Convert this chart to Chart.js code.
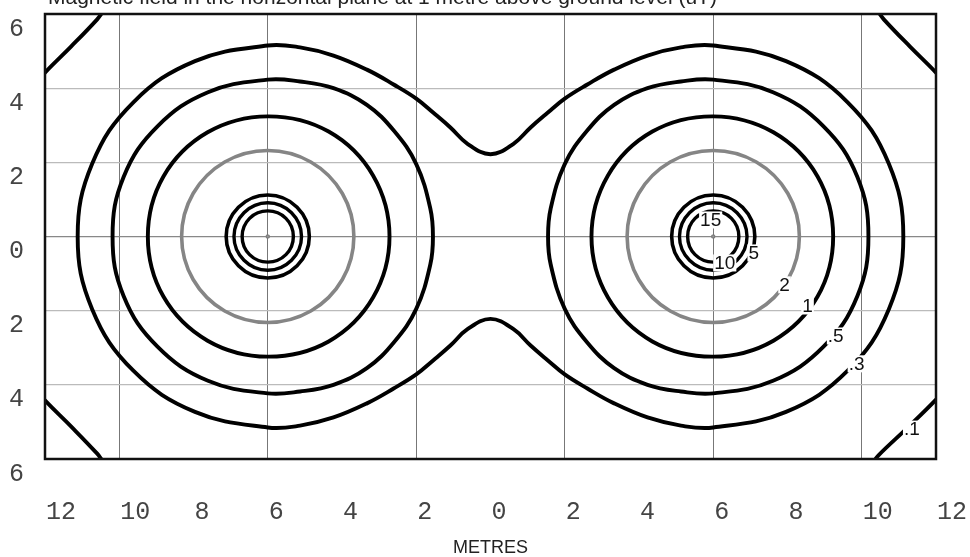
<!DOCTYPE html>
<html>
<head>
<meta charset="utf-8">
<title>Magnetic field contours</title>
<script src="https://cdn.jsdelivr.net/npm/chart.js@4.4.1/dist/chart.umd.min.js"></script>
<style>
  html, body { margin: 0; padding: 0; background: #fff; }
  #wrap { position: relative; width: 970px; height: 557px; }
</style>
</head>
<body>
<div id="wrap"><canvas id="fieldChart"></canvas></div>
<script>
// axes (metres)
const xTickValues = [-12, -10, -8, -6, -4, -2, 0, 2, 4, 6, 8, 10, 12];
const yTickValues = [6, 4, 2, 0, -2, -4, -6];
const xGridLines = [-10, -6, -2, 2, 6, 10];
const yGridLines = [4, 2, 0, -2, -4];
const conductors = [[-6, 0], [6, 0]];
const chartTitle = "Magnetic field in the horizontal plane at 1 metre above ground level (uT)";

// contour outlines, [x, y] in metres
const ring15Left = [[-6, 0.69], [-5.51, 0.49], [-5.31, 0], [-5.51, -0.49], [-6, -0.69], [-6.49, -0.49], [-6.69, 0], [-6.49, 0.49]];
const ring15Right = [[6, 0.69], [6.49, 0.49], [6.69, 0], [6.49, -0.49], [6, -0.69], [5.51, -0.49], [5.31, 0], [5.51, 0.49]];
const ring10Left = [[-6, 0.91], [-5.36, 0.64], [-5.09, 0], [-5.36, -0.64], [-6, -0.91], [-6.64, -0.64], [-6.91, 0], [-6.64, 0.64]];
const ring10Right = [[6, 0.91], [6.64, 0.64], [6.91, 0], [6.64, -0.64], [6, -0.91], [5.36, -0.64], [5.09, 0], [5.36, 0.64]];
const ring5Left = [[-6, 1.12], [-5.21, 0.79], [-4.88, 0], [-5.21, -0.79], [-6, -1.12], [-6.79, -0.79], [-7.12, 0], [-6.79, 0.79]];
const ring5Right = [[6, 1.12], [6.79, 0.79], [7.12, 0], [6.79, -0.79], [6, -1.12], [5.21, -0.79], [4.88, 0], [5.21, 0.79]];
const ring2Left = [[-6, 2.32], [-4.84, 2.01], [-3.99, 1.16], [-3.68, 0], [-3.99, -1.16], [-4.84, -2.01], [-6, -2.32], [-7.16, -2.01], [-8.01, -1.16], [-8.32, 0], [-8.01, 1.16], [-7.16, 2.01]];
const ring2Right = [[6, 2.32], [7.16, 2.01], [8.01, 1.16], [8.32, 0], [8.01, -1.16], [7.16, -2.01], [6, -2.32], [4.84, -2.01], [3.99, -1.16], [3.68, 0], [3.99, 1.16], [4.84, 2.01]];
const ring1Left = [[-6, 3.24], [-4.36, 2.83], [-3.16, 1.64], [-2.72, 0], [-3.16, -1.64], [-4.36, -2.83], [-6, -3.24], [-7.62, -2.81], [-8.81, -1.62], [-9.23, 0], [-8.81, 1.62], [-7.62, 2.81]];
const ring1Right = [[6, 3.24], [7.62, 2.81], [8.81, 1.62], [9.23, 0], [8.81, -1.62], [7.62, -2.81], [6, -3.24], [4.36, -2.83], [3.16, -1.64], [2.72, 0], [3.16, 1.64], [4.36, 2.83]];
const ring05Left = [[-6, 4.23], [-5.13, 4.18], [-4.23, 4.0], [-3.33, 3.55], [-2.6, 2.85], [-2.0, 1.95], [-1.62, 0.75], [-1.55, 0], [-1.62, -0.75], [-2.0, -1.95], [-2.6, -2.85], [-3.33, -3.55], [-4.23, -4.0], [-5.13, -4.18], [-6, -4.23], [-7.61, -3.89], [-8.97, -2.97], [-9.88, -1.61], [-10.18, 0], [-9.88, 1.61], [-8.97, 2.97], [-7.61, 3.89]];
const ring05Right = [[6, 4.23], [7.61, 3.89], [8.97, 2.97], [9.88, 1.61], [10.18, 0], [9.88, -1.61], [8.97, -2.97], [7.61, -3.89], [6, -4.23], [5.13, -4.18], [4.23, -4.0], [3.33, -3.55], [2.6, -2.85], [2.0, -1.95], [1.62, -0.75], [1.55, 0], [1.62, 0.75], [2.0, 1.95], [2.6, 2.85], [3.33, 3.55], [4.23, 4.0], [5.13, 4.18]];
const loop03 = [[0, 2.22], [-0.62, 2.5], [-1.08, 2.94], [-1.53, 3.33], [-2.0, 3.72], [-2.61, 4.1], [-3.33, 4.5], [-4.23, 4.88], [-5.13, 5.1], [-6, 5.15],
  [-7.96, 4.73], [-9.62, 3.62], [-10.73, 1.96], [-11.12, 0], [-10.73, -1.96], [-9.62, -3.62], [-7.96, -4.73], [-6, -5.15],
  [-5.13, -5.1], [-4.23, -4.88], [-3.33, -4.5], [-2.61, -4.1], [-2.0, -3.72], [-1.53, -3.33], [-1.08, -2.94], [-0.62, -2.5], [0, -2.22],
  [0.62, -2.5], [1.08, -2.94], [1.53, -3.33], [2.0, -3.72], [2.61, -4.1], [3.33, -4.5], [4.23, -4.88], [5.13, -5.1], [6, -5.15],
  [7.96, -4.73], [9.62, -3.62], [10.73, -1.96], [11.12, 0], [10.73, 1.96], [9.62, 3.62], [7.96, 4.73], [6, 5.15],
  [5.13, 5.1], [4.23, 4.88], [3.33, 4.5], [2.61, 4.1], [2.0, 3.72], [1.53, 3.33], [1.08, 2.94], [0.62, 2.5]];
const arc01UpperLeft = [[-12.4, 3.95], [-12.0, 4.42], [-11.3, 5.12], [-10.6, 5.85], [-10.45, 6.05]];
const arc01LowerLeft = [[-12.4, -3.95], [-12.0, -4.42], [-11.3, -5.12], [-10.6, -5.85], [-10.45, -6.05]];
const arc01UpperRight = [[12.4, 3.95], [12.0, 4.42], [11.3, 5.12], [10.6, 5.85], [10.45, 6.05]];
const arc01LowerRight = [[12.4, -3.95], [12.0, -4.4], [11.25, -5.14], [10.45, -5.9], [10.3, -6.1]];

// contour value labels (placed on the right-hand conductor)
const contourLabels = ["15", "10", "5", "2", "1", ".5", ".3", ".1"];
const labelX = [5.93, 6.31, 7.09, 7.92, 8.54, 9.30, 9.86, 11.35];
const labelY = [0.46, -0.70, -0.43, -1.29, -1.86, -2.67, -3.42, -5.18];

function contour(pts, color, width, closed, tension) {
  return {
    data: pts.map(p => ({ x: p[0], y: p[1] })),
    closed: closed,
    showLine: true,
    borderColor: color,
    borderWidth: width,
    pointRadius: 0,
    pointHoverRadius: 0,
    tension: tension,
    fill: false,
    clip: 0
  };
}

const black = "#000000";
const grey = "#858585";

const datasets = [
  contour(ring15Left, black, 3.4, true, 0.37),
  contour(ring15Right, black, 3.4, true, 0.37),
  contour(ring10Left, black, 3.4, true, 0.37),
  contour(ring10Right, black, 3.4, true, 0.37),
  contour(ring5Left, black, 3.6, true, 0.37),
  contour(ring5Right, black, 3.6, true, 0.37),
  contour(ring2Left, grey, 3.6, true, 0.35),
  contour(ring2Right, grey, 3.6, true, 0.35),
  contour(ring1Left, black, 3.9, true, 0.35),
  contour(ring1Right, black, 3.9, true, 0.35),
  contour(ring05Left, black, 3.9, true, 0.4),
  contour(ring05Right, black, 3.9, true, 0.4),
  contour(loop03, black, 3.9, true, 0.4),
  contour(arc01UpperLeft, black, 3.9, false, 0.4),
  contour(arc01LowerLeft, black, 3.9, false, 0.4),
  contour(arc01UpperRight, black, 3.9, false, 0.4),
  contour(arc01LowerRight, black, 3.9, false, 0.4),
  {
    data: conductors.map(p => ({ x: p[0], y: p[1] })),
    pointStyle: "rect",
    pointRadius: 2,
    backgroundColor: "#999",
    borderColor: "#777",
    borderWidth: 1
  }
];

// closed contours: let the line element wrap round like a radar line
const closeLoops = {
  id: "closeLoops",
  afterDatasetUpdate(chart, args) {
    const ds = chart.data.datasets[args.index];
    if (ds.closed) {
      const line = args.meta.dataset;
      line._loop = true;
      line._fullLoop = true;
      delete line._segments;
      delete line._path;
      line._pointsUpdated = false;
    }
  }
};

// frame, contour labels and the (clipped) title line
const decorations = {
  id: "decorations",
  afterDatasetsDraw(chart) {
    const ctx = chart.ctx;
    const xs = chart.scales.x, ys = chart.scales.y;
    ctx.save();
    ctx.font = "19px 'Liberation Sans', Arial, sans-serif";
    ctx.textAlign = "center";
    ctx.textBaseline = "middle";
    contourLabels.forEach((t, i) => {
      const px = xs.getPixelForValue(labelX[i]);
      const py = ys.getPixelForValue(labelY[i]);
      const w = ctx.measureText(t).width;
      ctx.fillStyle = "#fff";
      ctx.fillRect(px - w / 2 - 1, py - 8, w + 2, 17);
      ctx.fillStyle = "#111";
      ctx.fillText(t, px, py + 1);
    });
    const a = chart.chartArea;
    ctx.strokeStyle = "#111";
    ctx.lineWidth = 2.5;
    ctx.strokeRect(a.left, a.top, a.right - a.left, a.bottom - a.top);
    ctx.restore();
  },
  afterDraw(chart) {
    const ctx = chart.ctx;
    ctx.save();
    ctx.font = "21px 'Liberation Sans', Arial, sans-serif";
    ctx.fillStyle = "#222";
    ctx.textAlign = "left";
    ctx.textBaseline = "alphabetic";
    ctx.fillText(chartTitle, 48, 4);
    ctx.restore();
  }
};

function noPadding(s) {
  s.paddingLeft = 0;
  s.paddingRight = 0;
  s.paddingTop = 0;
  s.paddingBottom = 0;
}

new Chart(document.getElementById("fieldChart"), {
  type: "scatter",
  data: { datasets: datasets },
  plugins: [closeLoops, decorations],
  options: {
    responsive: true,
    maintainAspectRatio: false,
    animation: false,
    layout: { padding: { top: 14, right: 34, left: 0, bottom: 0 } },
    elements: { line: { capBezierPoints: false } },
    plugins: {
      legend: { display: false },
      tooltip: { enabled: false }
    },
    scales: {
      x: {
        type: "linear",
        min: -12,
        max: 12,
        afterBuildTicks: s => { s.ticks = xTickValues.map(v => ({ value: v })); },
        afterFit: s => { s.height = 98; noPadding(s); },
        border: { display: false },
        grid: {
          drawTicks: false,
          color: c => xGridLines.includes(c.tick.value) ? "#777" : "rgba(0,0,0,0)",
          lineWidth: 1
        },
        ticks: {
          callback: v => String(Math.abs(v)),
          font: { family: "'Liberation Mono', 'DejaVu Sans Mono', monospace", size: 25 },
          color: "#444",
          align: "start",
          labelOffset: 1,
          padding: 38,
          maxRotation: 0,
          autoSkip: false
        },
        title: {
          display: true,
          text: "METRES",
          font: { family: "'Liberation Sans', Arial, sans-serif", size: 18, lineHeight: 1 },
          color: "#222",
          padding: { top: 0, bottom: 0 }
        }
      },
      y: {
        type: "linear",
        min: -6,
        max: 6,
        afterBuildTicks: s => { s.ticks = yTickValues.map(v => ({ value: v })); },
        afterFit: s => { s.width = 45; noPadding(s); },
        border: { display: false },
        grid: {
          drawTicks: false,
          color: c => c.tick.value === 0 ? "#888" : (yGridLines.includes(c.tick.value) ? "#bbb" : "rgba(0,0,0,0)"),
          lineWidth: 1.3
        },
        ticks: {
          callback: v => String(Math.abs(v)),
          font: { family: "'Liberation Mono', 'DejaVu Sans Mono', monospace", size: 25 },
          color: "#444",
          padding: 21,
          labelOffset: 15,
          autoSkip: false
        }
      }
    }
  }
});
</script>
</body>
</html>
